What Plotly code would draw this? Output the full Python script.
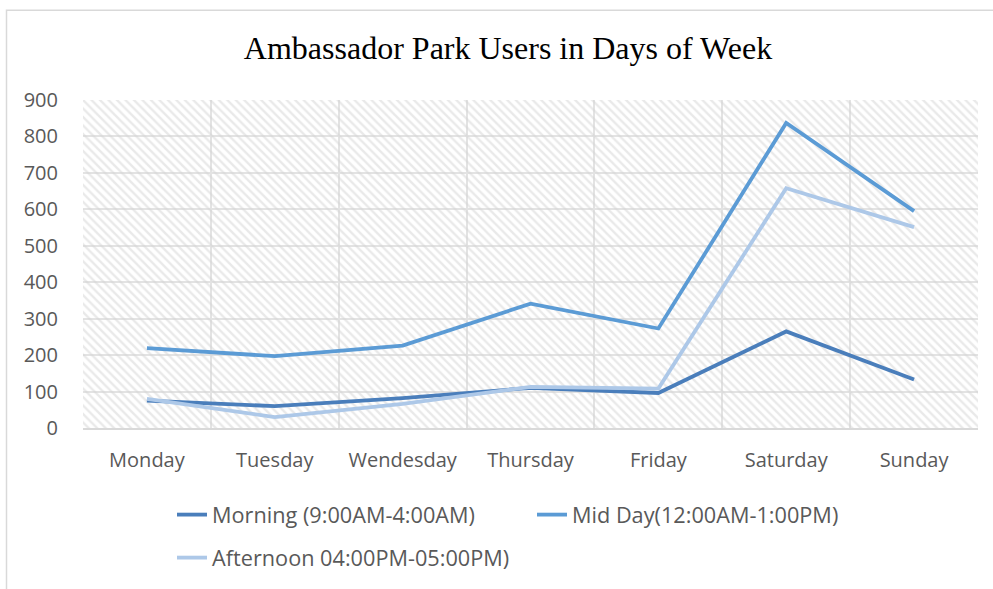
import plotly.graph_objects as go

days = ["Monday", "Tuesday", "Wendesday", "Thursday", "Friday", "Saturday", "Sunday"]
morning = [75, 60, 82, 110, 96, 265, 133]
midday = [219, 197, 226, 341, 273, 837, 595]
afternoon = [80, 30, 66, 113, 108, 658, 551]
y_ticks = [0, 100, 200, 300, 400, 500, 600, 700, 800, 900]

W, H = 993, 589
L, R, T, B = 83, 15, 100, 160
pw, ph = W - L - R, H - T - B

fig = go.Figure()

# hatched plot-area background (decoration on hidden unit axes)
fig.add_trace(go.Scatter(
    x=[0, 1, 1, 0, 0], y=[0, 0, 1, 1, 0], xaxis="x", yaxis="y",
    mode="none", fill="toself", fillcolor="rgba(0,0,0,0)",
    fillpattern=dict(shape="\\", fgcolor="#d4d4d4", bgcolor="rgba(0,0,0,0)", size=6, solidity=0.4),
    showlegend=False, hoverinfo="skip"))

series = [
    ("Morning (9:00AM-4:00AM)", morning, "#4A7EBB", "legend"),
    ("Mid Day(12:00AM-1:00PM)", midday, "#5B9BD5", "legend"),
    ("Afternoon 04:00PM-05:00PM)", afternoon, "#ADC8E8", "legend2"),
]
for name, vals, col, leg in series:
    fig.add_trace(go.Scatter(x=days, y=vals, name=name, mode="lines", xaxis="x2", yaxis="y2",
                             legend=leg, line=dict(color=col, width=3.8)))

leg_common = dict(orientation="h", xanchor="left", yanchor="middle",
                  entrywidth=315, entrywidthmode="pixels", bgcolor="rgba(0,0,0,0)",
                  font=dict(size=21.7, color="#595959"))

fig.update_layout(
    width=W, height=H,
    margin=dict(l=L, r=R, t=T, b=B),
    paper_bgcolor="white", plot_bgcolor="white",
    title=dict(text="Ambassador Park Users in Days of Week", x=508 / W, xanchor="center",
               y=1 - 48 / H, yanchor="middle",
               font=dict(family="Liberation Serif", size=32, color="#000000")),
    font=dict(family="Open Sans", color="#595959"),
    xaxis=dict(range=[0, 1], visible=False, fixedrange=True),
    yaxis=dict(range=[0, 1], visible=False, fixedrange=True),
    xaxis2=dict(type="category", overlaying="x", anchor="y2", tickson="boundaries",
                showgrid=True, gridcolor="#e3e3e3", gridwidth=1.5,
                showline=True, linecolor="#d9d9d9", linewidth=1.5,
                ticks="", ticklabelstandoff=13, tickfont=dict(size=20, color="#595959"),
                range=[-0.5, 6.5], zeroline=False),
    yaxis2=dict(range=[0, 900], overlaying="y", anchor="x2", side="left", tickvals=y_ticks,
                showgrid=True, gridcolor="#e3e3e3", gridwidth=1.5, zeroline=False,
                showline=False, ticks="", ticklabelstandoff=24,
                tickfont=dict(size=20, color="#595959")),
    legend=dict(x=(172 - L) / pw, y=-(515 - 429) / ph, **leg_common),
    legend2=dict(x=(172 - L) / pw, y=-(558 - 429) / ph, **leg_common),
    showlegend=True,
)

# outer chart border
fig.add_shape(type="rect", xref="paper", yref="paper",
              x0=(6.5 - L) / pw, x1=(1010 - L) / pw, y0=(429 - 620) / ph, y1=(429 - 10) / ph,
              line=dict(color="#d9d9d9", width=1.5), fillcolor="rgba(0,0,0,0)", layer="below")

fig.write_html("out.html", config={"displayModeBar": False},
               post_script="document.body.style.margin='0px';")
